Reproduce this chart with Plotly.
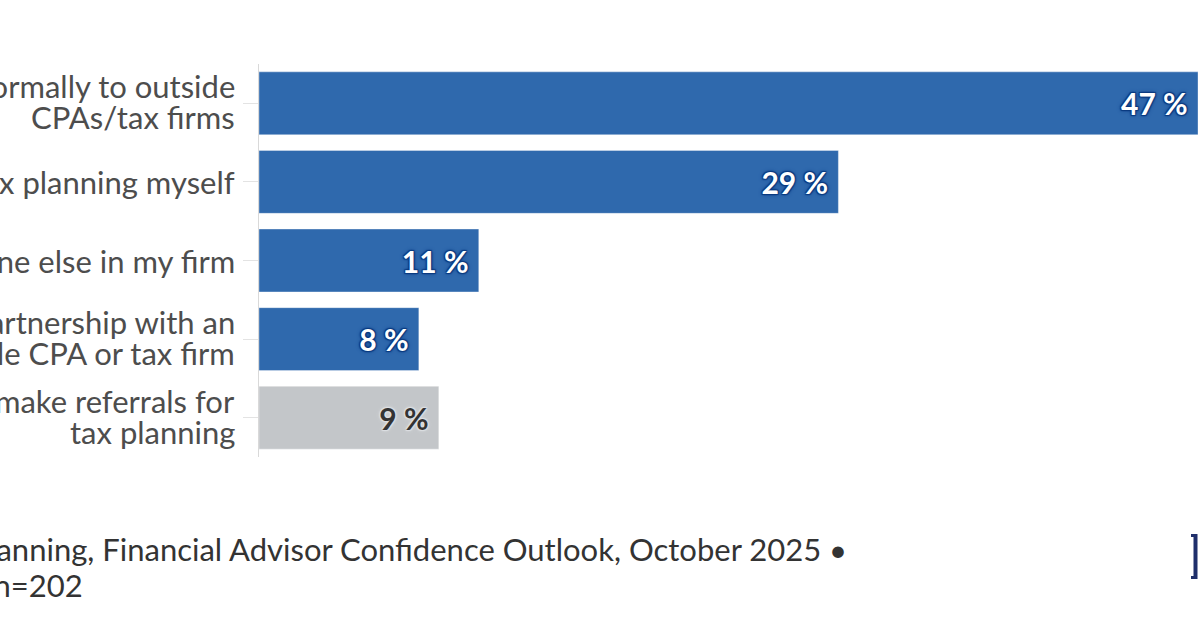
import plotly.graph_objects as go

categories = [
    "I refer clients formally to outside<br>CPAs/tax firms",
    "I do tax planning myself",
    "Someone else in my firm",
    "I have a formal partnership with an<br>outside CPA or tax firm",
    "I don't make referrals for<br>tax planning",
]
values = [47, 29, 11, 8, 9]
bar_colors = ["#2f69ad", "#2f69ad", "#2f69ad", "#2f69ad", "#c3c6c9"]
label_colors = ["#ffffff", "#ffffff", "#ffffff", "#ffffff", "#333333"]
_dark = "#0a3a80"
_light = "#dcdfe2"
label_shadows = [
    f"1px 1px 1px {_dark}, -1px -1px 1px {_dark}, 1px -1px 1px {_dark}, "
    f"-1px 1px 1px {_dark}, 0 0 4px {_dark}"
] * 4 + [
    f"1px 1px 1px {_light}, -1px -1px 1px {_light}, 1px -1px 1px {_light}, "
    f"-1px 1px 1px {_light}, 0 0 4px {_light}"
]
source_line = "Source: Financial Planning, Financial Advisor Confidence Outlook, October 2025 •"
sample_line = "Respondents: n=202"

# plot-area geometry (pixels)
L, R, T, B = 259, 1200, 64, 457
PW, PH = R - L, B - T


def px(x):
    return (x - L) / PW


def py(y):
    return (B - y) / PH


fig = go.Figure()
for cat, v, c, lc, sh in zip(categories, values, bar_colors, label_colors, label_shadows):
    fig.add_trace(go.Bar(
        y=[cat], x=[v], orientation="h",
        marker=dict(color=c, line=dict(color="rgba(255,255,255,0.35)", width=1)),
        text=[f"{v} %\u00a0"], textposition="inside", insidetextanchor="end",
        textfont=dict(family="Lato", size=30, color=lc, weight="bold", shadow=sh),
        constraintext="none", cliponaxis=False, showlegend=False, hoverinfo="skip",
    ))

annotations = []
for cat in categories:
    lines = cat.split("<br>")
    shifts = [0] if len(lines) == 1 else [17, -14]
    for ln, s in zip(lines, shifts):
        annotations.append(dict(
            text=ln, xref="paper", yref="y", x=px(237), y=cat, yshift=s,
            xanchor="right", yanchor="middle", showarrow=False,
            font=dict(family="Lato", size=31, color="#4d4d4d"),
        ))

annotations += [
    dict(text=source_line, xref="paper", yref="paper", x=px(849), y=py(549),
         xanchor="right", yanchor="middle", showarrow=False,
         font=dict(family="Lato", size=31, color="#333333")),
    dict(text=sample_line, xref="paper", yref="paper", x=px(85), y=py(585),
         xanchor="right", yanchor="middle", showarrow=False,
         font=dict(family="Lato", size=31, color="#333333")),
]

fig.update_layout(
    width=1200, height=630,
    margin=dict(l=L, r=1200 - R, t=T, b=630 - B),
    paper_bgcolor="white", plot_bgcolor="white",
    bargap=0.2,
    font=dict(family="Lato", color="#4a4a4a"),
    xaxis=dict(range=[0, 47.1], visible=False, fixedrange=True),
    yaxis=dict(
        categoryorder="array", categoryarray=categories[::-1],
        autorange=False, range=[-0.5, 4.5],
        automargin=False,
        showline=True, linecolor="#d9d9d9", linewidth=1,
        ticks="outside", ticklen=15, tickcolor="#e3e3e3", tickwidth=1,
        showticklabels=False,
        showgrid=False,
    ),
    annotations=annotations,
    shapes=[
        dict(type="path", xref="paper", yref="paper",
             path=(f"M {px(1191)} {py(534)} L {px(1197.5)} {py(534)} "
                   f"L {px(1197.5)} {py(579)} L {px(1191)} {py(579)} "
                   f"L {px(1191)} {py(576)} L {px(1193.5)} {py(576)} "
                   f"L {px(1193.5)} {py(537)} L {px(1191)} {py(537)} Z"),
             fillcolor="#1f2f6b", line=dict(width=0)),
    ],
)

fig.write_html("out.html")
